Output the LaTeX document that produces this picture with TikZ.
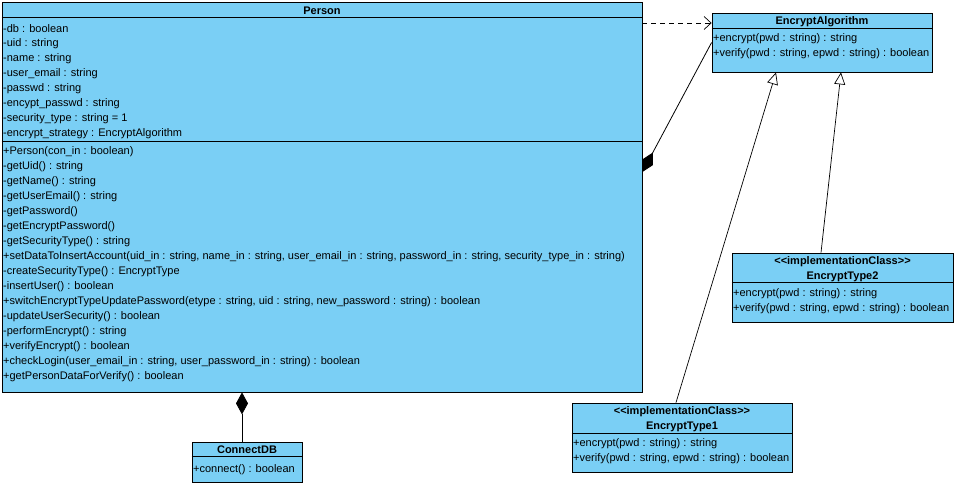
\documentclass[tikz,border=0pt]{standalone}
\usepackage{fontspec}
\setmainfont{Liberation Sans}
\usepackage{xcolor}
\usetikzlibrary{arrows.meta}
\definecolor{umlblue}{RGB}{122,207,245}
\newcommand{\stereo}[1]{<\kern0pt<#1>\kern0pt>}

\begin{document}
\begin{tikzpicture}[x=1pt,y=-1pt,
	classbox/.style={draw,fill=umlblue,line width=0.8pt,inner sep=0pt},
	member/.style={anchor=west,inner sep=1pt,yshift=-2pt,font=\fontsize{11}{13}\selectfont},
	title/.style={inner sep=0pt,yshift=-1pt,font=\fontsize{11}{13}\selectfont\bfseries},
	depend/.style={line width=0.7pt,dash pattern=on 5pt off 4pt,-{Straight Barb[length=7pt,width=13pt]}},
	realize/.style={line width=0.7pt,-{Triangle[open,length=12pt,width=11pt,fill=white]}},
	compo/.style={line width=0.8pt,{Diamond[length=22pt,width=12pt]}-}]
	\useasboundingbox (0,0) rectangle (956,486);
	%
	\node[classbox,minimum width=640pt,minimum height=390pt] (person) at (322,197) {};
	\node[classbox,minimum width=220pt,minimum height=59pt] (algo) at (822,42.5) {};
	\node[classbox,minimum width=221pt,minimum height=69pt] (type2) at (842.5,287.5) {};
	\node[classbox,minimum width=220pt,minimum height=69pt] (type1) at (682,437.5) {};
	\node[classbox,minimum width=110pt,minimum height=40pt] (connect) at (247,462) {};
	%
	\draw[line width=0.8pt] (person.west |- 0,17) -- (person.east |- 0,17);
	\draw[line width=0.8pt] (person.west |- 0,141) -- (person.east |- 0,141);
	\draw[line width=0.8pt] (algo.west |- 0,28) -- (algo.east |- 0,28);
	\draw[line width=0.8pt] (type2.west |- 0,282) -- (type2.east |- 0,282);
	\draw[line width=0.8pt] (type1.west |- 0,433) -- (type1.east |- 0,433);
	\draw[line width=0.8pt] (connect.west |- 0,456) -- (connect.east |- 0,456);
	%
	\node[title] (ptitle) at (322,9.5) {Person};
	\foreach \txt [count=\i] in {{-db : boolean},{-uid : string},{-name : string},
		{-user\_email : string},{-passwd : string},{-encypt\_passwd : string},
		{-security\_type : string = 1},{-encrypt\_strategy : EncryptAlgorithm}}
		\node[member] (pa\i) at (2,12+15*\i) {\txt};
	\foreach \txt [count=\i] in {{+Person(con\_in : boolean)},{-getUid() : string},
		{-getName() : string},{-getUserEmail() : string},{-getPassword()},
		{-getEncryptPassword()},{-getSecurityType() : string},
		{+setDataToInsertAccount(uid\_in : string, name\_in : string, user\_email\_in : string, password\_in : string, security\_type\_in : string)},
		{-createSecurityType() : EncryptType},{-insertUser() : boolean},
		{+switchEncryptTypeUpdatePassword(etype : string, uid : string, new\_password : string) : boolean},
		{-updateUserSecurity() : boolean},{-performEncrypt() : string},
		{+verifyEncrypt() : boolean},
		{+checkLogin(user\_email\_in : string, user\_password\_in : string) : boolean},
		{+getPersonDataForVerify() : boolean}}
		\node[member] (pm\i) at (2,135+15*\i) {\txt};
	%
	\node[title] (atitle) at (822,20.5) {EncryptAlgorithm};
	\node[member] (a1) at (712,37) {+encrypt(pwd : string) : string};
	\node[member] (a2) at (712,52) {+verify(pwd : string, epwd : string) : boolean};
	%
	\node[title] (t2stereo) at (842.5,261) {\stereo{implementationClass}};
	\node[title] (t2title) at (842.5,275.5) {EncryptType2};
	\node[member] (t2a) at (732,292) {+encrypt(pwd : string) : string};
	\node[member] (t2b) at (732,307) {+verify(pwd : string, epwd : string) : boolean};
	%
	\node[title] (t1stereo) at (682,411) {\stereo{implementationClass}};
	\node[title] (t1title) at (682,425.5) {EncryptType1};
	\node[member] (t1a) at (572,442) {+encrypt(pwd : string) : string};
	\node[member] (t1b) at (572,457) {+verify(pwd : string, epwd : string) : boolean};
	%
	\node[title] (ctitle) at (247,449) {ConnectDB};
	\node[member] (c1) at (192,468) {+connect() : boolean};
	%
	\coordinate (dstart) at ([yshift=174pt]person.east);
	\coordinate (cend) at ([xshift=-5pt]connect.north);
	\draw[depend] (dstart) -- (dstart -| algo.west);
	\draw[compo] ([yshift=25pt]person.east) -- (algo.west);
	\draw[compo] (person.south -| cend) -- (cend);
	\draw[realize] ([xshift=-21.5pt]type2.north) -- ([xshift=19pt]algo.south);
	\draw[realize] ([xshift=-6pt]type1.north) -- ([xshift=-46pt]algo.south);
\end{tikzpicture}
\end{document}
